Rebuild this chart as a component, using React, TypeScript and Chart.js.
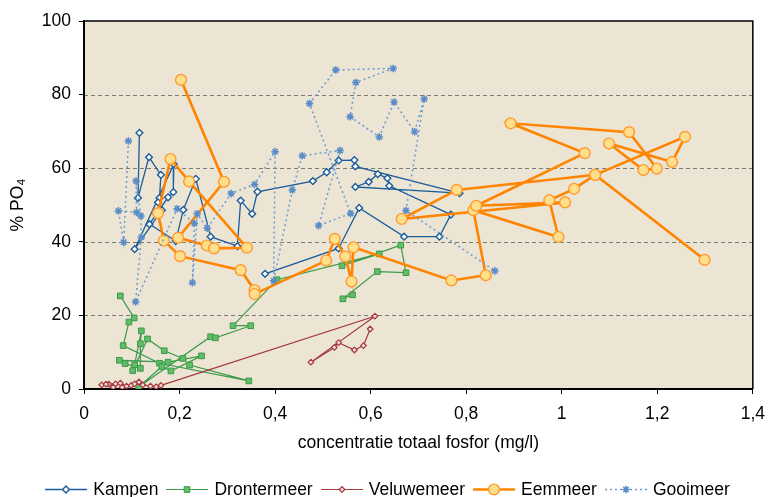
import React, { useEffect, useRef } from 'react';
import { Chart, registerables } from 'chart.js';

Chart.register(...registerables);

// ---- axis ticks ----
const xTickValues = [0, 0.2, 0.4, 0.6, 0.8, 1.0, 1.2, 1.4];
const xTickLabels = ['0', '0,2', '0,4', '0,6', '0,8', '1', '1,2', '1,4'];
const yTickValues = [0, 20, 40, 60, 80, 100];
const gridValues = [20, 40, 60, 80];

// ---- series (x = totaal fosfor mg/l, y = % PO4) ----
const kampenX = [0.116, 0.113, 0.136, 0.161, 0.158, 0.155, 0.163, 0.106, 0.188, 0.187, 0.176, 0.137, 0.192, 0.208, 0.234, 0.265, 0.321, 0.328, 0.352, 0.363, 0.479, 0.508, 0.533, 0.566, 0.568, 0.786, 0.568, 0.596, 0.615, 0.635, 0.639, 0.768, 0.744, 0.670, 0.576, 0.533, 0.379];
const kampenY = [69.6, 51.9, 63.0, 58.2, 51.9, 50.7, 48.6, 38.0, 61.1, 53.5, 52.1, 44.8, 40.2, 48.7, 57.1, 41.4, 38.8, 51.2, 47.6, 53.6, 56.5, 58.9, 62.1, 62.2, 60.5, 53.2, 54.9, 56.3, 58.4, 57.3, 55.2, 47.4, 41.4, 41.4, 49.2, 38.2, 31.3];

const drontermeerX = [0.076, 0.105, 0.094, 0.082, 0.158, 0.345, 0.221, 0.207, 0.168, 0.133, 0.102, 0.106, 0.120, 0.118, 0.118, 0.086, 0.074, 0.176, 0.246, 0.182, 0.163, 0.115, 0.265, 0.275, 0.349, 0.312, 0.404, 0.618, 0.540, 0.663, 0.674, 0.614, 0.542, 0.562];
const drontermeerY = [25.3, 19.3, 18.2, 11.8, 7.0, 2.2, 6.5, 8.3, 10.4, 13.6, 5.0, 6.6, 15.8, 12.3, 5.6, 6.9, 7.8, 7.3, 9.0, 4.9, 6.1, 0.6, 14.2, 13.9, 17.2, 17.2, 29.7, 36.7, 33.5, 39.1, 31.6, 31.9, 24.5, 25.6];

const veluwemeerX = [0.037, 0.052, 0.046, 0.066, 0.061, 0.076, 0.089, 0.080, 0.099, 0.115, 0.106, 0.123, 0.139, 0.151, 0.161, 0.609, 0.475, 0.524, 0.533, 0.566, 0.585, 0.599];
const veluwemeerY = [1.1, 1.3, 1.3, 1.4, 0.5, 1.6, 0.8, 0.5, 1.0, 1.9, 1.4, 1.1, 0.8, 0.6, 1.0, 19.8, 7.3, 11.3, 12.6, 10.6, 11.8, 16.3];

const eemmeerX = [0.203, 0.293, 0.197, 0.257, 0.272, 0.341, 0.220, 0.181, 0.155, 0.167, 0.201, 0.328, 0.357, 0.357, 0.507, 0.525, 0.547, 0.560, 0.564, 0.769, 0.841, 0.815, 0.993, 0.974, 1.026, 1.070, 0.780, 0.665, 1.007, 0.821, 1.048, 0.893, 1.141, 1.199, 1.171, 1.099, 1.231, 1.258, 1.070, 1.299];
const eemmeerY = [84.0, 56.3, 41.1, 39.0, 38.2, 38.4, 56.4, 62.5, 47.8, 40.3, 36.1, 32.3, 26.9, 25.8, 34.9, 40.8, 36.0, 29.2, 38.5, 29.5, 30.9, 48.6, 41.3, 51.3, 54.4, 58.2, 54.1, 46.2, 50.7, 49.8, 64.1, 72.2, 69.8, 59.9, 59.5, 66.7, 61.7, 68.5, 58.2, 35.1];

const gooimeerX = [0.093, 0.083, 0.072, 0.110, 0.109, 0.119, 0.120, 0.108, 0.195, 0.231, 0.227, 0.237, 0.258, 0.308, 0.357, 0.400, 0.397, 0.436, 0.457, 0.536, 0.491, 0.558, 0.472, 0.527, 0.647, 0.569, 0.557, 0.618, 0.649, 0.692, 0.712, 0.674, 0.860];
const gooimeerY = [67.4, 39.9, 48.4, 48.0, 56.5, 47.0, 41.2, 23.7, 49.0, 45.0, 28.9, 47.6, 43.7, 53.1, 55.6, 64.5, 29.4, 54.1, 63.4, 64.8, 44.4, 47.7, 77.6, 86.7, 87.1, 83.3, 74.0, 68.5, 78.0, 69.9, 78.8, 48.5, 32.1];

const FONT = '"Liberation Sans", Arial, sans-serif';
const FONT_SIZE = 17.5;
const PLOT_BG = '#ECE5D4';

type SeriesStyle = {
  label: string;
  xs: number[];
  ys: number[];
  line: string;
  lineWidth: number;
  dash: number[];
  pointStyle: 'rectRot' | 'rect' | 'circle' | 'star';
  radius: number;
  fill: string;
  stroke: string;
  pointBorder: number;
};

const series: SeriesStyle[] = [
  { label: 'Kampen', xs: kampenX, ys: kampenY, line: '#1D5C9B', lineWidth: 1.3, dash: [], pointStyle: 'rectRot', radius: 3.4, fill: '#FFFFFF', stroke: '#1D5C9B', pointBorder: 1.4 },
  { label: 'Drontermeer', xs: drontermeerX, ys: drontermeerY, line: '#3C9A4A', lineWidth: 1.2, dash: [], pointStyle: 'rect', radius: 4, fill: '#62BD68', stroke: '#3C9A4A', pointBorder: 1 },
  { label: 'Veluwemeer', xs: veluwemeerX, ys: veluwemeerY, line: '#A63A3C', lineWidth: 1.2, dash: [], pointStyle: 'rectRot', radius: 2.8, fill: '#F6DADA', stroke: '#A63A3C', pointBorder: 1.2 },
  { label: 'Eemmeer', xs: eemmeerX, ys: eemmeerY, line: '#FF8400', lineWidth: 2.6, dash: [], pointStyle: 'circle', radius: 5.4, fill: '#FDDF8C', stroke: '#FF9A2E', pointBorder: 1.4 },
  { label: 'Gooimeer', xs: gooimeerX, ys: gooimeerY, line: '#6A9BD2', lineWidth: 1.5, dash: [2, 3], pointStyle: 'star', radius: 3.8, fill: '#6A9BD2', stroke: '#5A8CC6', pointBorder: 1.5 },
];

function drawMarker(ctx: CanvasRenderingContext2D, s: SeriesStyle, x: number, y: number) {
  const r = s.radius;
  ctx.save();
  ctx.setLineDash([]);
  ctx.lineWidth = s.pointBorder;
  ctx.strokeStyle = s.stroke;
  ctx.fillStyle = s.fill;
  ctx.beginPath();
  if (s.pointStyle === 'circle') {
    ctx.arc(x, y, r, 0, Math.PI * 2);
    ctx.fill();
    ctx.stroke();
  } else if (s.pointStyle === 'rectRot') {
    ctx.moveTo(x - r, y);
    ctx.lineTo(x, y - r);
    ctx.lineTo(x + r, y);
    ctx.lineTo(x, y + r);
    ctx.closePath();
    ctx.fill();
    ctx.stroke();
  } else if (s.pointStyle === 'rect') {
    const h = Math.SQRT1_2 * r;
    ctx.rect(x - h, y - h, 2 * h, 2 * h);
    ctx.fill();
    ctx.stroke();
  } else {
    ctx.moveTo(x - r, y);
    ctx.lineTo(x + r, y);
    ctx.moveTo(x, y - r);
    ctx.lineTo(x, y + r);
    const d = r * Math.SQRT1_2;
    ctx.moveTo(x - d, y - d);
    ctx.lineTo(x + d, y + d);
    ctx.moveTo(x - d, y + d);
    ctx.lineTo(x + d, y - d);
    ctx.stroke();
  }
  ctx.restore();
}

function LegendSample({ s }: { s: SeriesStyle }) {
  const ref = useRef<HTMLCanvasElement>(null);
  useEffect(() => {
    const c = ref.current;
    if (!c) return;
    const ctx = c.getContext('2d');
    if (!ctx) return;
    ctx.clearRect(0, 0, c.width, c.height);
    ctx.save();
    ctx.strokeStyle = s.line;
    ctx.lineWidth = s.lineWidth;
    ctx.setLineDash(s.dash);
    ctx.beginPath();
    ctx.moveTo(0, 8.5);
    ctx.lineTo(42, 8.5);
    ctx.stroke();
    ctx.restore();
    drawMarker(ctx, s, 21, 8.5);
  }, [s]);
  return <canvas ref={ref} width={42} height={17} style={{ display: 'block' }} />;
}

const plotDecor = {
  id: 'plotDecor',
  beforeDraw(chart: any) {
    const { ctx, chartArea: a, scales } = chart;
    ctx.save();
    ctx.fillStyle = PLOT_BG;
    ctx.fillRect(a.left, a.top, a.right - a.left, a.bottom - a.top);
    ctx.strokeStyle = '#7A7A7A';
    ctx.lineWidth = 1;
    ctx.setLineDash([4, 3]);
    for (const v of gridValues) {
      const y = Math.round(scales.y.getPixelForValue(v)) + 0.5;
      ctx.beginPath();
      ctx.moveTo(a.left, y);
      ctx.lineTo(a.right, y);
      ctx.stroke();
    }
    ctx.restore();
  },
  afterDraw(chart: any) {
    const { ctx, chartArea: a } = chart;
    ctx.save();
    ctx.strokeStyle = '#000';
    ctx.lineWidth = 1.5;
    ctx.beginPath();
    ctx.moveTo(a.left, a.top);
    ctx.lineTo(a.right, a.top);
    ctx.lineTo(a.right, a.bottom);
    ctx.stroke();
    ctx.restore();
  },
};

export default function App() {
  const canvasRef = useRef<HTMLCanvasElement>(null);

  useEffect(() => {
    const canvas = canvasRef.current;
    if (!canvas) return;
    const n = series.length;
    const chart = new Chart(canvas, {
      type: 'scatter',
      data: {
        datasets: series.map((s, i) => ({
          label: s.label,
          data: s.xs.map((x, k) => ({ x, y: s.ys[k] })),
          showLine: true,
          borderColor: s.line,
          borderWidth: s.lineWidth,
          borderDash: s.dash,
          tension: 0,
          pointStyle: s.pointStyle,
          pointRadius: s.radius,
          pointHoverRadius: s.radius,
          pointBackgroundColor: s.fill,
          pointBorderColor: s.stroke,
          pointBorderWidth: s.pointBorder,
          order: n - i,
        })),
      },
      options: {
        responsive: false,
        animation: false,
        devicePixelRatio: 1,
        layout: { padding: { left: 0, top: 21, right: 16, bottom: 28 } },
        plugins: {
          legend: { display: false },
          tooltip: { enabled: false },
        },
        scales: {
          x: {
            type: 'linear',
            min: 0,
            max: 1.4,
            afterBuildTicks: (scale: any) => {
              scale.ticks = xTickValues.map((v) => ({ value: v }));
            },
            afterFit: (scale: any) => {
              scale.height = 80;
            },
            grid: { drawOnChartArea: false, drawTicks: true, tickLength: 5, color: '#000', tickColor: '#000' },
            border: { display: true, color: '#000', width: 2 },
            ticks: {
              autoSkip: false,
              maxRotation: 0,
              padding: 10,
              color: '#000',
              font: { family: FONT, size: FONT_SIZE },
              callback: (_v: any, i: number) => xTickLabels[i],
            },
            title: {
              display: true,
              text: 'concentratie totaal fosfor (mg/l)',
              color: '#000',
              font: { family: FONT, size: FONT_SIZE },
              padding: 15,
            },
          },
          y: {
            type: 'linear',
            min: 0,
            max: 100,
            afterBuildTicks: (scale: any) => {
              scale.ticks = yTickValues.map((v) => ({ value: v }));
            },
            afterFit: (scale: any) => {
              scale.width = 84;
            },
            grid: { drawOnChartArea: false, drawTicks: true, tickLength: 5, color: '#000', tickColor: '#000' },
            border: { display: true, color: '#000', width: 2 },
            ticks: {
              padding: 8,
              color: '#000',
              font: { family: FONT, size: FONT_SIZE },
              callback: (v: any) => String(v),
            },
            title: {
              display: true,
              text: '% PO₄',
              color: '#000',
              font: { family: FONT, size: FONT_SIZE },
              padding: { top: 8, bottom: 0 },
            },
          },
        },
      },
      plugins: [plotDecor],
    } as any);
    return () => chart.destroy();
  }, []);

  return (
    <div style={{ position: 'absolute', left: 0, top: 0, width: 775, height: 497, background: '#fff', overflow: 'hidden' }}>
      <canvas ref={canvasRef} width={775} height={497} style={{ display: 'block', width: 775, height: 497 }} />
      <div
        style={{
          position: 'absolute',
          left: 0,
          top: 479,
          width: 775,
          display: 'flex',
          justifyContent: 'center',
          alignItems: 'center',
          fontFamily: FONT,
          fontSize: FONT_SIZE,
          lineHeight: '20px',
          color: '#000',
        }}
      >
        {series.map((s, i) => (
          <div key={s.label} style={{ display: 'flex', alignItems: 'center', marginRight: i < series.length - 1 ? 8 : 0 }}>
            <LegendSample s={s} />
            <span style={{ marginLeft: 6, whiteSpace: 'nowrap' }}>{s.label}</span>
          </div>
        ))}
      </div>
    </div>
  );
}
